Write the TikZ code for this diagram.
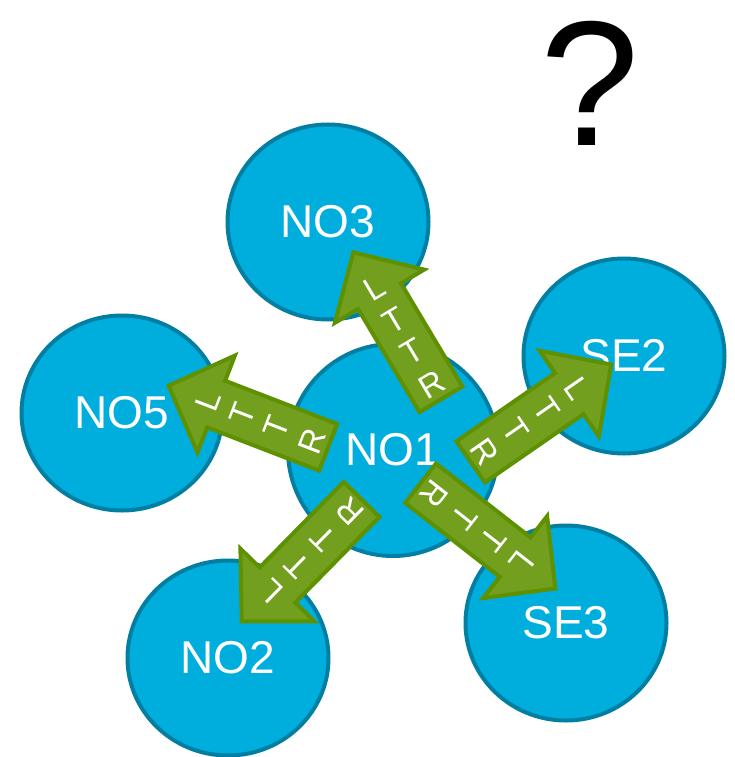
\documentclass[tikz,border=0pt]{standalone}
\usepackage{fontspec}
\setmainfont{Liberation Sans}
\usetikzlibrary{shapes.geometric}

\definecolor{bubblefill}{RGB}{0,174,222}
\definecolor{bubbleedge}{RGB}{0,127,163}
\definecolor{arrowfill}{RGB}{114,160,30}
\definecolor{arrowedge}{RGB}{94,144,0}

\tikzset{
  bubble/.style={ellipse, draw=bubbleedge, fill=bubblefill, line width=4pt,
    inner sep=0pt, minimum width=201pt, minimum height=195pt,
    text=white, font=\fontsize{46}{50}\selectfont},
  hub/.style={bubble, minimum width=210pt, minimum height=212pt},
  arrowbody/.style={draw=arrowedge, fill=arrowfill, line width=4pt, line join=miter},
  letter/.style={text=white, inner sep=0pt, font=\fontsize{33}{36}\selectfont},
}

% block arrow from a tail point in a given direction, with stacked letters R T T L
\newcommand\lttrarrow[3]{%
  \begin{scope}[shift={#2}, rotate=#3]
    \draw[arrowbody] (2,-25) -- (122,-25) -- (122,-52) -- (173,0)
      -- (122,52) -- (122,25) -- (2,25) -- cycle;
    \node[letter, rotate=#3-90] (#1-r)  at (19,0)  {R};
    \node[letter, rotate=#3-90] (#1-t1) at (57,0)  {T};
    \node[letter, rotate=#3-90] (#1-t2) at (94,0)  {T};
    \node[letter, rotate=#3-90] (#1-l)  at (131,0) {L};
  \end{scope}}

\begin{document}
\begin{tikzpicture}[x=1pt, y=-1pt]
  \useasboundingbox (0,0) rectangle (734,757);

  % bubbles
  \node[bubble] (no3) at (328,222) {NO3};
  \node[bubble] (se2) at (624,356) {SE2};
  \node[bubble] (no5) at (122,413) {NO5};
  \node[hub]    (no1) at (393,450) {NO1};
  \node[bubble] (no2) at (228,658) {NO2};
  \node[bubble] (se3) at (566,623) {SE3};

  % arrows leaving the hub
  \lttrarrow{up}{(442,401)}{120.8}
  \lttrarrow{left}{(330,448)}{158.9}
  \lttrarrow{right}{(469,463)}{34.7}
  \lttrarrow{down}{(419,482)}{-38}
  \lttrarrow{downleft}{(363,498)}{-134.5}

  % question mark
  \node[inner sep=0pt, font=\fontsize{178}{180}\selectfont] (q) at (590,83) {?};
\end{tikzpicture}
\end{document}
